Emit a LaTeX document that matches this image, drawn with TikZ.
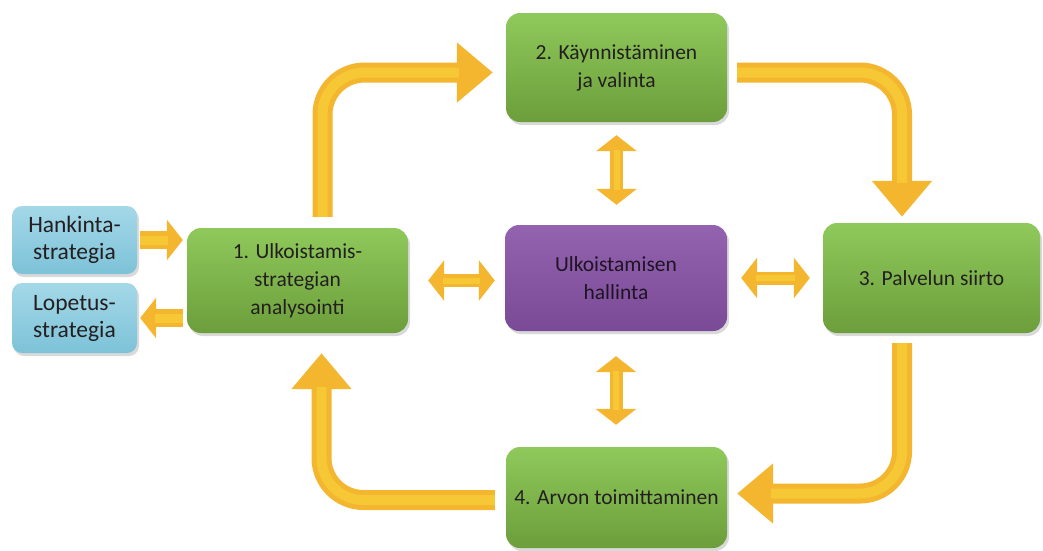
\documentclass[tikz,border=0pt]{standalone}
\usepackage{fontspec}
\setmainfont{Carlito}
\usetikzlibrary{arrows.meta,shadows}
\definecolor{gtop}{HTML}{8FC95B}
\definecolor{gbot}{HTML}{6C9E3B}
\definecolor{ptop}{HTML}{9463B0}
\definecolor{pbot}{HTML}{7A4A96}
\definecolor{btop}{HTML}{A4D8E8}
\definecolor{bbot}{HTML}{7DC2D8}
\definecolor{arrowc}{HTML}{F3B62E}
\definecolor{arrowl}{HTML}{F6C836}
\definecolor{txt}{HTML}{231F20}
\begin{document}
\begin{tikzpicture}[x=1pt,y=-1pt,
  box/.style={rounded corners=14pt, align=center, inner sep=2pt,
    font=\fontsize{21.5}{28}\selectfont, text=txt,
    drop shadow={shadow xshift=2pt,shadow yshift=-3pt,opacity=.3}},
  greenbox/.style={box, top color=gtop, bottom color=gbot},
  purplebox/.style={box, top color=ptop, bottom color=pbot, text=black!80!ptop},
  bluebox/.style={box, top color=btop, bottom color=bbot, rounded corners=10pt,
    font=\fontsize{23.5}{27}\selectfont},
  bigarrow/.style={line width=20pt, draw=arrowc, rounded corners=42pt,
    -{Triangle[length=36pt,width=58pt]},
    postaction={draw=arrowl, line width=10pt, arrows=-, shorten >=34pt}},
  smallarrow/.style={line width=18pt, draw=arrowc, -{Triangle[length=16pt,width=40pt]},
    postaction={draw=arrowl, line width=9pt, arrows=-, shorten >=15pt}},
  dblarrow/.style={line width=13pt, draw=arrowc,
    {Triangle[length=16pt,width=40pt]}-{Triangle[length=16pt,width=40pt]},
    postaction={draw=arrowl, line width=6pt, arrows=-, shorten >=15pt, shorten <=15pt}}
]
\useasboundingbox (0,0) rectangle (1043,550);

\node[bluebox, minimum width=125pt, minimum height=68pt] (hank) at (74.5,240) {Hankinta-\\strategia};
\node[bluebox, minimum width=125pt, minimum height=70pt] (lop) at (74.5,318) {Lopetus-\\strategia};
\node[greenbox, minimum width=221pt, minimum height=105pt] (b1) at (297.5,280.5) {1. Ulkoistamis-\\strategian\\analysointi};
\node[greenbox, minimum width=221pt, minimum height=109pt] (b2) at (616.5,67.5) {2. Käynnistäminen\\ja valinta};
\node[purplebox, minimum width=222pt, minimum height=106pt] (mid) at (616,278) {Ulkoistamisen\\hallinta};
\node[greenbox, minimum width=217pt, minimum height=110pt] (b3) at (931.5,278) {3. Palvelun siirto};
\node[greenbox, minimum width=221pt, minimum height=101pt] (b4) at (616.5,497.5) {4. Arvon toimittaminen};

% cycle arrows
\draw[bigarrow] ([xshift=25pt,yshift=11pt]b1.north) |- ([xshift=-13pt,yshift=-5pt]b2.west);
\draw[bigarrow] ([xshift=10pt,yshift=-5pt]b2.east) -| ([xshift=-29.5pt,yshift=6pt]b3.north);
\draw[bigarrow] ([xshift=-29.5pt,yshift=-10pt]b3.south) |- ([xshift=10pt,yshift=4pt]b4.east);
\draw[bigarrow] ([xshift=-11pt,yshift=-2.5pt]b4.west) -| ([xshift=24pt,yshift=-20pt]b1.south);

% strategy arrows
\draw[smallarrow] ([xshift=3pt]hank.east) -- ([xshift=-4pt]hank.east -| b1.west);
\draw[smallarrow] ([xshift=-4pt]lop.east -| b1.west) -- ([xshift=3pt]lop.east);

% double arrows
\draw[dblarrow] ([xshift=20pt]b1.east) -- ([xshift=-10pt]b1.east -| mid.west);
\draw[dblarrow] ([xshift=14pt]mid.east) -- ([xshift=-13pt]mid.east -| b3.west);
\draw[dblarrow] ([yshift=-13pt]b2.south) -- ([yshift=20pt]b2.south |- mid.north);
\draw[dblarrow] ([yshift=-25pt]mid.south) -- ([yshift=22pt]mid.south |- b4.north);
\end{tikzpicture}
\end{document}
